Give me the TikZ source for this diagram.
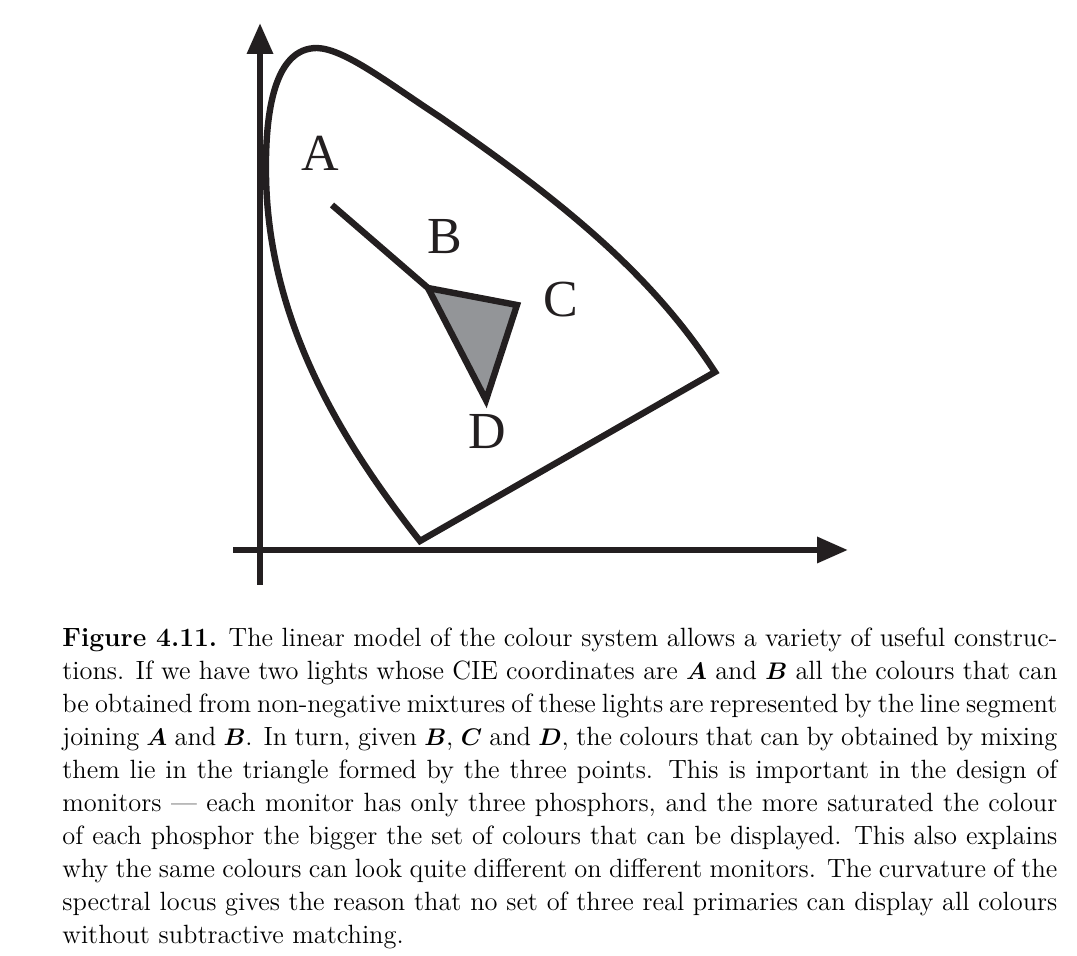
\documentclass[tikz,border=0pt]{standalone}
\usepackage{fontspec}
\usepackage{bm}
\usetikzlibrary{arrows.meta}
\newfontfamily\lblfont{Liberation Serif}
\definecolor{ink}{HTML}{231F20}
\definecolor{trifill}{HTML}{939598}
\tikzset{
  thickline/.style={line width=3.2pt, draw=ink},
  axisline/.style={line width=3.2pt, draw=ink, -{Triangle[length=15.5pt,width=12.5pt]}},
  ptlabel/.style={font=\lblfont\fontsize{26}{30}\selectfont, text=ink, inner sep=0pt},
}
\begin{document}
\begin{tikzpicture}[x=0.5pt,y=-0.5pt]
\useasboundingbox (0,0) rectangle (1077,956);
% axes
\coordinate (ybot) at (260,585);
\coordinate (ytop) at (260,23);
\coordinate (xleft) at (233,550);
\coordinate (xright) at (848,550);
\draw[axisline] (ybot) -- (ytop);
\draw[axisline] (xleft) -- (xright);
% spectral locus
\coordinate (bot) at (420,541);
\coordinate (left) at (266,175);
\coordinate (top) at (317,48);
\coordinate (mid) at (440,117);
\coordinate (corner) at (715,372);
\draw[thickline, line join=miter]
  (bot) .. controls (340,440) and (268,320) .. (left)
        .. controls (265,110) and (275,48) .. (top)
        .. controls (345,49) and (388,83) .. (mid)
        .. controls (560,200) and (650,272) .. (corner)
  -- cycle;
% points
\coordinate (A) at (332,205);
\coordinate (B) at (428,288);
\coordinate (C) at (517,305);
\coordinate (D) at (486,400);
\draw[thickline] (A) -- (B);
\draw[thickline, fill=trifill, line join=miter] (B) -- (C) -- (D) -- cycle;
% labels
\node[ptlabel] (lA) at (320,153) {A};
\node[ptlabel] (lB) at (445,237) {B};
\node[ptlabel] (lC) at (561,300) {C};
\node[ptlabel] (lD) at (487,432) {D};
% caption
\node[anchor=north west, inner sep=0pt] (cap) at (62,628) {\fontsize{13.2}{16.45}\selectfont\vbox{\hsize=497.5pt\baselineskip=16.45pt
\hbox to\hsize{\textbf{Figure 4.11.} The linear model of the colour system allows a variety of useful construc-}
\hbox to\hsize{tions. If we have two lights whose CIE coordinates are $\bm{A}$ and $\bm{B}$ all the colours that can}
\hbox to\hsize{be obtained from non-negative mixtures of these lights are represented by the line segment}
\hbox to\hsize{joining $\bm{A}$ and $\bm{B}$. In turn, given $\bm{B}$, $\bm{C}$ and $\bm{D}$, the colours that can by obtained by mixing}
\hbox to\hsize{them lie in the triangle formed by the three points. This is important in the design of}
\hbox to\hsize{monitors --- each monitor has only three phosphors, and the more saturated the colour}
\hbox to\hsize{of each phosphor the bigger the set of colours that can be displayed. This also explains}
\hbox to\hsize{why the same colours can look quite different on different monitors. The curvature of the}
\hbox to\hsize{spectral locus gives the reason that no set of three real primaries can display all colours}
\hbox{without subtractive matching.}}};
\end{tikzpicture}
\end{document}
